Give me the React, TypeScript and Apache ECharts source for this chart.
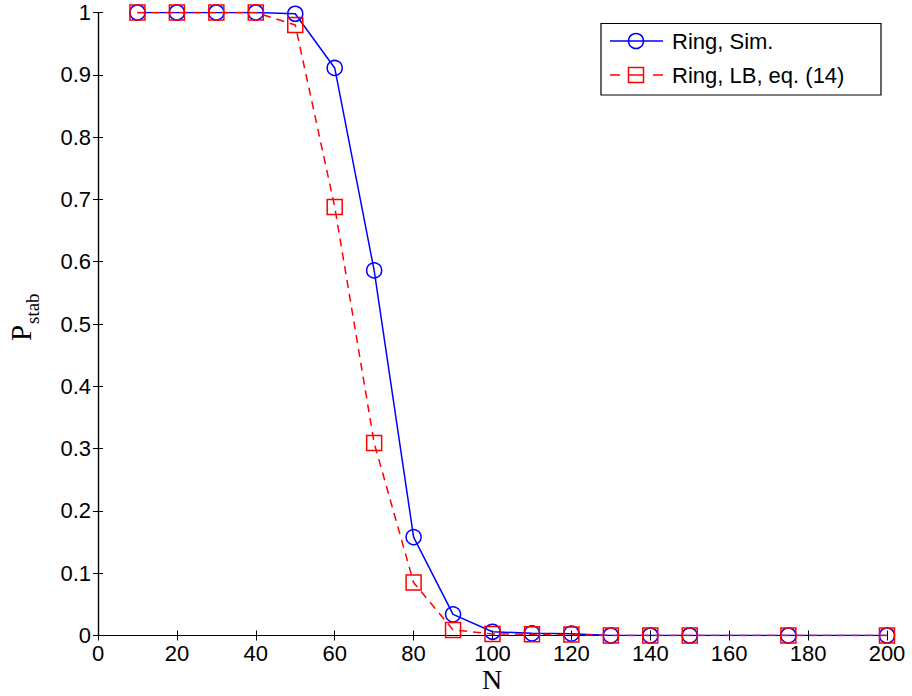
import React, { useEffect, useRef } from "react";
import * as echarts from "echarts";

const nValues = [10, 20, 30, 40, 50, 60, 70, 80, 90, 100, 110, 120, 130, 140, 150, 175, 200];
const simValues = [1, 1, 1, 1, 0.998, 0.911, 0.586, 0.158, 0.034, 0.006, 0.0035, 0.003, 0, 0, 0, 0, 0];
const lbValues = [1, 1, 1, 1, 0.98, 0.688, 0.309, 0.085, 0.009, 0.0025, 0.002, 0.0015, 0, 0, 0, 0, 0];
const simName = "Ring, Sim.";
const lbName = "Ring, LB, eq. (14)";

export default function App() {
  const ref = useRef<HTMLDivElement>(null);
  useEffect(() => {
    document.body.style.margin = "0";
    const chart = echarts.init(ref.current!, null, { renderer: "svg" });
    const tickFont = { fontFamily: "Liberation Sans, Arial, sans-serif", fontSize: 22, color: "#000" };
    const axisCommon = {
      axisLine: { show: true, lineStyle: { color: "#000", width: 1.2 } },
      axisTick: { show: true, inside: true, length: 5, lineStyle: { color: "#000", width: 1 } },
      splitLine: { show: false },
    };
    chart.setOption({
      animation: false,
      backgroundColor: "#fff",
      grid: { left: 98, right: 25, top: 12.5, bottom: 60.5 },
      xAxis: [
        {
          type: "value", min: 0, max: 200, interval: 20, position: "bottom",
          ...axisCommon,
          axisLabel: { ...tickFont, margin: 7 },
        },
        {
          type: "value", min: 0, max: 200, interval: 20, position: "top",
          ...axisCommon,
          axisLabel: { show: false },
        },
      ],
      yAxis: [
        {
          type: "value", min: 0, max: 1, interval: 0.1, position: "left",
          ...axisCommon,
          axisLabel: { ...tickFont, margin: 7 },
        },
        {
          type: "value", min: 0, max: 1, interval: 0.1, position: "right",
          ...axisCommon,
          axisLabel: { show: false },
        },
      ],
      series: [
        {
          name: simName,
          type: "line",
          data: nValues.map((n, i) => [n, simValues[i]]),
          symbol: "circle",
          symbolSize: 15,
          showAllSymbol: true,
          lineStyle: { color: "#0000ff", width: 1.5 },
          itemStyle: { color: "transparent", borderColor: "#0000ff", borderWidth: 1.5 },
          z: 2,
        },
        {
          name: lbName,
          type: "line",
          data: nValues.map((n, i) => [n, lbValues[i]]),
          symbol: "rect",
          symbolSize: 15,
          showAllSymbol: true,
          lineStyle: { color: "#ff0000", width: 1.5, type: [8, 6] },
          itemStyle: { color: "transparent", borderColor: "#ff0000", borderWidth: 1.5 },
          z: 3,
        },
      ],
      graphic: [
        // legend box
        {
          type: "rect",
          shape: { x: 601, y: 23.5, width: 280, height: 71.5 },
          style: { fill: "#fff", stroke: "#000", lineWidth: 1.2 },
          z: 100,
        },
        {
          type: "line",
          shape: { x1: 610, y1: 41, x2: 663, y2: 41 },
          style: { stroke: "#0000ff", lineWidth: 1.5 },
          z: 101,
        },
        {
          type: "circle",
          shape: { cx: 636, cy: 41, r: 7.5 },
          style: { fill: "none", stroke: "#0000ff", lineWidth: 1.5 },
          z: 102,
        },
        {
          type: "text",
          x: 672, y: 41,
          style: {
            text: simName, fill: "#000", fontSize: 22,
            fontFamily: "Liberation Sans, Arial, sans-serif", verticalAlign: "middle", align: "left",
          },
          z: 102,
        },
        {
          type: "line",
          shape: { x1: 610, y1: 75, x2: 620, y2: 75 },
          style: { stroke: "#ff0000", lineWidth: 1.5 },
          z: 101,
        },
        {
          type: "line",
          shape: { x1: 628.5, y1: 75, x2: 643.5, y2: 75 },
          style: { stroke: "#ff0000", lineWidth: 1.5 },
          z: 101,
        },
        {
          type: "line",
          shape: { x1: 653, y1: 75, x2: 663, y2: 75 },
          style: { stroke: "#ff0000", lineWidth: 1.5 },
          z: 101,
        },
        {
          type: "rect",
          shape: { x: 628.5, y: 67.5, width: 15, height: 15 },
          style: { fill: "none", stroke: "#ff0000", lineWidth: 1.5 },
          z: 102,
        },
        {
          type: "text",
          x: 672, y: 75,
          style: {
            text: lbName, fill: "#000", fontSize: 22,
            fontFamily: "Liberation Sans, Arial, sans-serif", verticalAlign: "middle", align: "left",
          },
          z: 102,
        },
        // x axis name
        {
          type: "text",
          x: 492, y: 679,
          style: {
            text: "N", fill: "#000", fontSize: 28,
            fontFamily: "Liberation Serif, Times New Roman, serif", align: "center", verticalAlign: "middle",
          },
        },
        // y axis name P_stab
        {
          type: "group",
          x: 21, y: 333,
          rotation: Math.PI / 2,
          children: [
            {
              type: "text",
              x: 0, y: 0,
              style: {
                text: "P", fill: "#000", fontSize: 29,
                fontFamily: "Liberation Serif, Times New Roman, serif", align: "center", verticalAlign: "middle",
              },
            },
            {
              type: "text",
              x: 9, y: 11,
              style: {
                text: "stab", fill: "#000", fontSize: 19,
                fontFamily: "Liberation Serif, Times New Roman, serif", align: "left", verticalAlign: "middle",
              },
            },
          ],
        },
      ],
    });
    return () => chart.dispose();
  }, []);
  return <div ref={ref} style={{ width: 912, height: 696 }} />;
}
